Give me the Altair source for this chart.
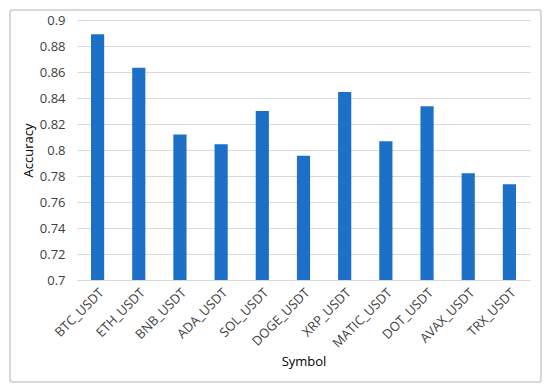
import altair as alt
import pandas as pd

symbols = ["BTC_USDT", "ETH_USDT", "BNB_USDT", "ADA_USDT", "SOL_USDT", "DOGE_USDT",
           "XRP_USDT", "MATIC_USDT", "DOT_USDT", "AVAX_USDT", "TRX_USDT"]
accuracy = [0.889, 0.8633, 0.812, 0.8044, 0.830, 0.7956, 0.8446, 0.8067, 0.8336, 0.7821, 0.7736]
y_ticks = [0.7, 0.72, 0.74, 0.76, 0.78, 0.8, 0.82, 0.84, 0.86, 0.88, 0.9]

df = pd.DataFrame({"Symbol": symbols, "Accuracy": accuracy})

FONT = "Open Sans"

bars = alt.Chart(df).mark_bar(color="#1c70c8", clip=True).encode(
    x=alt.X("Symbol:N", sort=symbols,
            scale=alt.Scale(paddingInner=0.68, paddingOuter=0.34),
            axis=alt.Axis(title="Symbol", labelAngle=-45, ticks=False,
                          domainColor="#d9d9d9", labelPadding=6,
                          titlePadding=5)),
    y=alt.Y("Accuracy:Q", scale=alt.Scale(domain=[0.7, 0.9], zero=False, nice=False),
            axis=alt.Axis(title="Accuracy", values=y_ticks, format="~g",
                          ticks=False, domain=False, gridColor="#d9d9d9",
                          labelPadding=12, titlePadding=4)),
)

border = alt.Chart(df).mark_rect(
    fill=None, stroke="#d9d9d9", strokeWidth=1.5, cornerRadius=3, clip=False
).encode(
    x=alt.value(-67), x2=alt.value(464),
    y=alt.value(-10), y2=alt.value(362),
)

chart = alt.layer(border, bars).properties(
    width=453, height=260,
    padding={"left": 69, "top": 12, "right": 12, "bottom": 104},
    autosize=alt.AutoSizeParams(type="none"),
).configure_view(stroke=None).configure_axis(
    labelFont=FONT, titleFont=FONT, labelFontSize=13, titleFontSize=13,
    labelColor="#404040", titleColor="#000000", titleFontWeight="normal",
)

chart.save("out.html", embed_options={"renderer": "svg", "actions": False})
